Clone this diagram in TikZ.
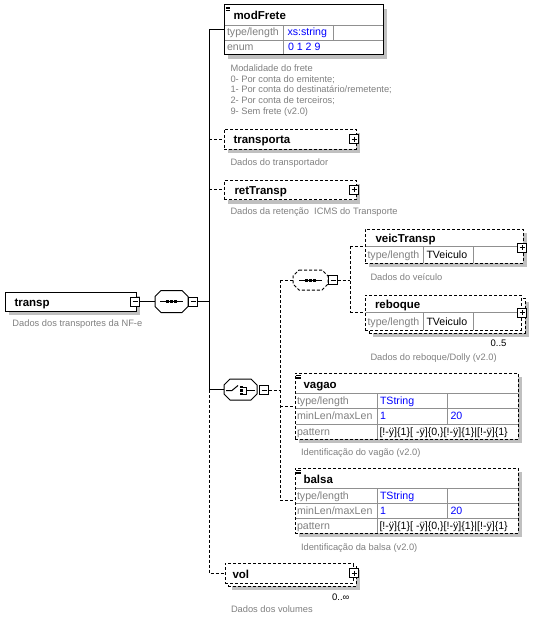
\documentclass[tikz,border=0pt]{standalone}
\usepackage{fontspec}
\setmainfont{Liberation Sans}
\usetikzlibrary{calc,shadows}
\definecolor{shgray}{HTML}{C0C0C0}
\definecolor{lblgray}{HTML}{808080}
\definecolor{gridgray}{HTML}{909090}
\definecolor{valblue}{HTML}{0000FF}
\newcommand\MinusBx[3]{\node[pmbox] (#1) at (#2,#3) {};
  \draw[line width=0.8pt] ([xshift=2pt]#1.west) -- ([xshift=-2pt]#1.east);}
\newcommand\PlusBx[3]{\node[pmbox] (#1) at (#2,#3) {};
  \draw[line width=0.8pt] ([xshift=2pt]#1.west) -- ([xshift=-2pt]#1.east)
    ([yshift=-2pt]#1.north) -- ([yshift=2pt]#1.south);}
\newcommand\OctaPath[2]{%
  \draw[#2] ($(#1.north west)+(6,0)$) -- ($(#1.north east)+(-6,0)$) -- ($(#1.north east)+(0,6)$)
    -- ($(#1.south east)+(0,-6)$) -- ($(#1.south east)+(-6,0)$) -- ($(#1.south west)+(6,0)$)
    -- ($(#1.south west)+(0,-6)$) -- ($(#1.north west)+(0,6)$) -- cycle;}
\newcommand\AnnIcon[2]{%
  \draw[line width=0.6pt] (#1,#2) -- ++(4.5,0) (#1,#2+1.8) -- ++(4.5,0) (#1,#2+3.6) -- ++(4.5,0);}
\begin{document}
\begin{tikzpicture}[x=1pt,y=-1pt,line width=1pt,
  dsh/.style={dash pattern=on 3pt off 2pt},
  shd/.style={drop shadow={shadow xshift=4pt,shadow yshift=-4pt,fill=shgray,opacity=1}},
  elem/.style={draw=black,fill=white,inner sep=0pt,outer sep=0pt,anchor=north west},
  pmbox/.style={draw=black,fill=white,minimum width=9pt,minimum height=9pt,inner sep=0pt,outer sep=0pt,line width=0.8pt},
  octbox/.style={inner sep=0pt,outer sep=0pt},
  grid/.style={draw=gridgray,line width=0.8pt},
  ttl/.style={anchor=base west,inner sep=0pt,font=\fontsize{11.5}{13}\selectfont\bfseries},
  lbl/.style={anchor=base west,inner sep=0pt,text=lblgray,font=\fontsize{10.6}{12}\selectfont},
  val/.style={anchor=base west,inner sep=0pt,text=valblue,font=\fontsize{10.6}{12}\selectfont},
  valk/.style={anchor=base west,inner sep=0pt,text=black,font=\fontsize{10.6}{12}\selectfont},
  dsc/.style={anchor=base west,inner sep=0pt,text=lblgray,font=\fontsize{9.3}{10.7}\selectfont},
  occ/.style={anchor=base east,inner sep=0pt,font=\fontsize{9.5}{11}\selectfont}]
\useasboundingbox[fill=white] (0,0) rectangle (545,623);

% ---------- spine coordinates ----------
\coordinate (spine) at (209,301.5);
\coordinate (cspine) at (280,389.5);
\coordinate (sspine) at (350,280);

% ---------- transp ----------
\node[elem,shd,minimum width=131pt,minimum height=19pt] (transp) at (5,292) {};
\node[ttl] (transpT) at (14,306) {transp};
\MinusBx{transpm}{135}{301.5}
\node[dsc] (transpD) at (12,326.5) {Dados dos transportes da NF-e};

% ---------- sequence ----------
\node[octbox,minimum width=33pt,minimum height=22pt] (seq) at (171.5,301.5) {};
\OctaPath{seq}{fill=shgray,draw=none,shift={(4,4)}}
\OctaPath{seq}{fill=white,draw=black}
\draw (160,301.5) -- (183,301.5);
\foreach \c in {167,171,175} \fill (\c-1.5,300) rectangle (\c+1.5,303);
\MinusBx{seqm}{193}{301.5}
\draw (transpm.east) -- (transpm.east -| seq.west);
\draw (seqm.east) -- (seqm.east -| spine);

% ---------- main spine ----------
\node[elem,shd,minimum width=159pt,minimum height=50pt] (modFrete) at (224,5) {};
\node[elem,dsh,shd,minimum width=132pt,minimum height=20pt] (transporta) at (224,129) {};
\node[elem,dsh,shd,minimum width=132pt,minimum height=19.5pt] (retTransp) at (224,180) {};
\node[elem,dsh,shd,minimum width=128pt,minimum height=20pt] (volb) at (228,566) {};
\node[elem,dsh,minimum width=128pt,minimum height=20pt] (volf) at (225,563) {};
\node[octbox,minimum width=33pt,minimum height=21pt] (choice) at (240.5,389.5) {};

\draw (spine |- modFrete.west) -- (spine |- choice.west);
\draw (spine |- modFrete.west) -- (modFrete.west);
\draw[dsh] (spine |- transporta.west) -- (transporta.west);
\draw[dsh] (spine |- retTransp.west) -- (retTransp.west);
\draw (spine |- choice.west) -- (choice.west);
\draw[dsh] (spine |- choice.west) -- (spine |- volf.west) -- (volf.west);

% modFrete
\draw[grid] (224.5,25) -- (382.5,25) (224.5,40) -- (382.5,40) (283,25) -- (283,54.5) (333,25) -- (333,40);
\AnnIcon{225.5}{7}
\node[ttl] (mfT) at (233,20) {modFrete};
\node[lbl] (mfL1) at (226.5,36) {type/length};
\node[val] (mfV1) at (287,36) {xs:string};
\node[lbl] (mfL2) at (226.5,51) {enum};
\node[val] (mfV2) at (287.5,51) {0 1 2 9};
\node[dsc] (mfD1) at (230,71.5) {Modalidade do frete};
\node[dsc] (mfD2) at (230,82.2) {0- Por conta do emitente;};
\node[dsc] (mfD3) at (230,93) {1- Por conta do destinatário/remetente;};
\node[dsc] (mfD4) at (230,103.7) {2- Por conta de terceiros;};
\node[dsc] (mfD5) at (230,114.4) {9- Sem frete (v2.0)};

% transporta
\node[ttl] (tpT) at (233,143.5) {transporta};
\PlusBx{tpP}{354}{139}
\node[dsc] (tpD) at (230,165) {Dados do transportador};

% retTransp
\node[ttl] (rtT) at (234,194) {retTransp};
\PlusBx{rtP}{354}{189.75}
\node[dsc] (rtD) at (230,214) {Dados da retenção\ \ ICMS do Transporte};

% vol
\node[ttl] (volT) at (232,578) {vol};
\PlusBx{volP}{354}{573}
\node[occ] (volO) at (350,600.5) {0..∞};
\node[dsc] (volD) at (230.5,612.5) {Dados dos volumes};

% ---------- choice ----------
\OctaPath{choice}{fill=shgray,draw=none,shift={(4,4)}}
\OctaPath{choice}{fill=white,draw=black}
\draw (226,390.5) -- (232,390.5) -- (238,385.5);
\foreach \c in {387,390.5,394} \fill (240,\c-1.3) rectangle (242.8,\c+1.3);
\draw[line width=0.8pt] (242.5,387) -- (246,387) -- (246,394) -- (242.5,394) (246,390.5) -- (255,390.5);
\MinusBx{choicem}{264}{390}
\draw[dsh] (choicem.east) -- (choicem.east -| cspine);

% inner sequence
\node[octbox,minimum width=35pt,minimum height=20pt] (iseq) at (310.5,280) {};
\OctaPath{iseq}{fill=shgray,draw=none,shift={(4,4)}}
\OctaPath{iseq}{fill=white,draw=black,dsh}
\draw (299,280) -- (322,280);
\foreach \c in {306,310,314} \fill (\c-1.5,278.5) rectangle (\c+1.5,281.5);
\MinusBx{iseqm}{333}{280}

\node[elem,dsh,shd,minimum width=158pt,minimum height=34pt] (veic) at (365,229) {};
\node[elem,dsh,shd,minimum width=156pt,minimum height=35pt] (rebb) at (369,298) {};
\node[elem,dsh,minimum width=156pt,minimum height=35pt] (rebf) at (365,295) {};
\node[elem,dsh,shd,minimum width=223pt,minimum height=66pt] (vagao) at (295,373) {};
\node[elem,dsh,shd,minimum width=223pt,minimum height=65pt] (balsa) at (295,468) {};

\draw[dsh] (cspine |- iseq.west) -- (cspine |- balsa.west);
\draw[dsh] (cspine |- iseq.west) -- (iseq.west);
\draw[dsh] (cspine |- vagao.west) -- (vagao.west);
\draw[dsh] (cspine |- balsa.west) -- (balsa.west);
\draw[dsh] (iseqm.east) -- (sspine);
\draw[dsh] (sspine |- veic.west) -- (sspine |- rebf.west);
\draw[dsh] (sspine |- veic.west) -- (veic.west);
\draw[dsh] (sspine |- rebf.west) -- (rebf.west);

% veicTransp
\draw[grid] (365.5,246) -- (522.5,246) (423,246) -- (423,262.5) (473,246) -- (473,262.5);
\node[ttl] (vtT) at (375,242) {veicTransp};
\node[lbl] (vtL) at (367,258.5) {type/length};
\node[valk] (vtV) at (426,258.5) {TVeiculo};
\PlusBx{vtP}{522}{247.5}
\node[dsc] (vtD) at (370,280.5) {Dados do veículo};

% reboque
\draw[grid] (365.5,312) -- (520.5,312) (423,312) -- (423,329.5) (473,312) -- (473,329.5);
\node[ttl] (rbT) at (374.5,308) {reboque};
\node[lbl] (rbL) at (367,325) {type/length};
\node[valk] (rbV) at (426,325) {TVeiculo};
\PlusBx{rbP}{522}{312.5}
\node[occ] (rbO) at (507,346.5) {0..5};
\node[dsc] (rbD) at (370,360) {Dados do reboque/Dolly (v2.0)};

% vagao
\draw[grid] (295.5,393) -- (517.5,393) (295.5,408) -- (517.5,408) (295.5,424) -- (517.5,424)
  (377,393) -- (377,438.5) (447,393) -- (447,424);
\AnnIcon{296}{375}
\node[ttl] (vgT) at (303,388) {vagao};
\node[lbl] (vgL1) at (296.5,404) {type/length};
\node[val] (vgV1) at (379.5,404) {TString};
\node[lbl] (vgL2) at (296.5,419.5) {minLen/maxLen};
\node[val] (vgV2) at (379.5,419.5) {1};
\node[val] (vgV3) at (450,419.5) {20};
\node[lbl] (vgL3) at (296.5,435) {pattern};
\node[valk] (vgV4) at (379,435) {[!-ÿ]\{1\}[ -ÿ]\{0,\}[!-ÿ]\{1\}|[!-ÿ]\{1\}};
\node[dsc] (vgD) at (300.5,455.5) {Identificação do vagão (v2.0)};

% balsa
\draw[grid] (295.5,488) -- (517.5,488) (295.5,503) -- (517.5,503) (295.5,518) -- (517.5,518)
  (377,488) -- (377,532.5) (447,488) -- (447,518);
\AnnIcon{296}{470}
\node[ttl] (bsT) at (303,483) {balsa};
\node[lbl] (bsL1) at (296.5,499) {type/length};
\node[val] (bsV1) at (379.5,499) {TString};
\node[lbl] (bsL2) at (296.5,514) {minLen/maxLen};
\node[val] (bsV2) at (379.5,514) {1};
\node[val] (bsV3) at (450,514) {20};
\node[lbl] (bsL3) at (296.5,529) {pattern};
\node[valk] (bsV4) at (379,529) {[!-ÿ]\{1\}[ -ÿ]\{0,\}[!-ÿ]\{1\}|[!-ÿ]\{1\}};
\node[dsc] (bsD) at (300.5,550.5) {Identificação da balsa (v2.0)};
\end{tikzpicture}
\end{document}
